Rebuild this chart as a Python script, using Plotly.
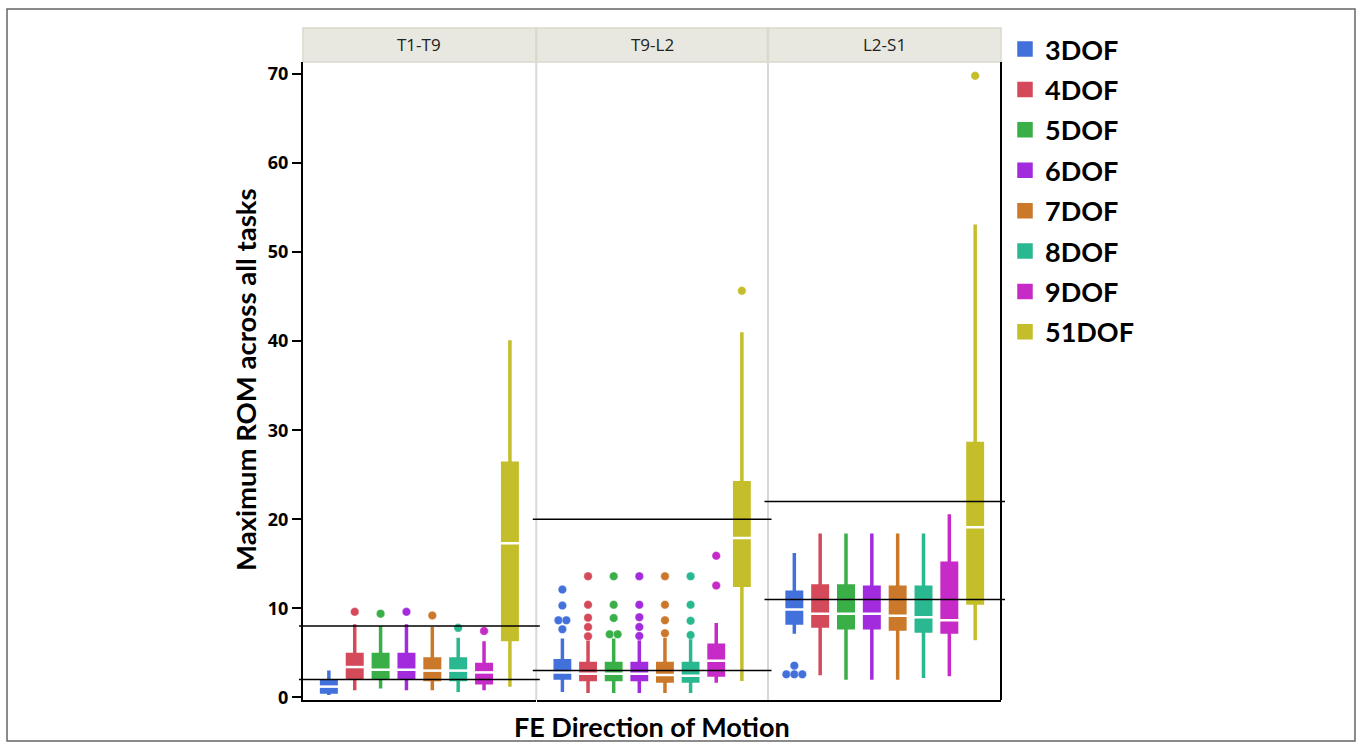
import plotly.graph_objects as go
from plotly.subplots import make_subplots

regions = ["T1-T9", "T9-L2", "L2-S1"]
dofs = ["3DOF", "4DOF", "5DOF", "6DOF", "7DOF", "8DOF", "9DOF", "51DOF"]
colors = ["#4271dc", "#d54a5a", "#3aaf48", "#a12bdd", "#cc782a", "#2ab890", "#c62bc8", "#c4be2a"]

lowerfence = {
    "T1-T9": [0.25, 0.8, 1.0, 0.8, 0.8, 0.6, 0.8, 1.2],
    "T9-L2": [0.6, 0.5, 0.5, 0.5, 0.5, 0.5, 1.65, 1.83],
    "L2-S1": [7.15, 2.47, 1.98, 1.98, 1.98, 2.17, 2.36, 6.4],
}
q1 = {
    "T1-T9": [0.6, 2.2, 2.2, 2.2, 2.0, 2.0, 1.65, 6.5],
    "T9-L2": [2.17, 2.0, 2.0, 2.0, 1.83, 1.83, 2.5, 12.6],
    "L2-S1": [8.35, 8.0, 7.8, 7.8, 7.68, 7.45, 7.34, 10.6],
}
median = {
    "T1-T9": [1.2, 3.4, 3.1, 3.1, 3.0, 3.0, 2.8, 17.3],
    "T9-L2": [2.8, 2.65, 2.65, 2.65, 2.5, 2.43, 4.1, 17.9],
    "L2-S1": [9.85, 9.4, 9.4, 9.4, 9.17, 9.0, 8.65, 19.1],
}
q3 = {
    "T1-T9": [1.8, 4.8, 4.8, 4.8, 4.3, 4.3, 3.7, 26.3],
    "T9-L2": [4.1, 3.8, 3.8, 3.8, 3.8, 3.8, 5.85, 24.1],
    "L2-S1": [11.8, 12.5, 12.5, 12.36, 12.36, 12.36, 15.06, 28.5],
}
upperfence = {
    "T1-T9": [3.0, 8.2, 8.0, 8.2, 7.9, 6.7, 6.3, 40.1],
    "T9-L2": [6.6, 6.4, 6.6, 6.4, 6.7, 6.6, 8.35, 41.0],
    "L2-S1": [16.2, 18.4, 18.4, 18.4, 18.4, 18.4, 20.56, 53.1],
}
outliers = {
    "T1-T9": [[], [9.6], [9.4], [9.6], [9.2], [7.8], [7.45], []],
    "T9-L2": [[12.1, 10.3, 8.65, 8.65, 7.64], [13.6, 10.4, 8.95, 7.9, 6.85],
              [13.6, 10.4, 8.9, 7.08, 7.08], [13.6, 10.4, 9.0, 7.9, 6.9],
              [13.6, 10.4, 8.65, 7.2], [13.6, 10.4, 8.6, 7.0], [15.9, 12.55], [45.65]],
    "L2-S1": [[3.56, 2.58, 2.58, 2.58], [], [], [], [], [], [], [69.8]],
}
ref_lines = {"T1-T9": [8.0, 2.0], "T9-L2": [20.0, 3.0], "L2-S1": [22.0, 11.0]}

y_ticks = [0, 10, 20, 30, 40, 50, 60, 70]

# ---- layout geometry (screen pixels) ----
W, H = 1360, 743
L, R, T, B = 303, 1001, 62, 700
pw, ph = R - L, B - T
def px(x):
    return (x - L) / pw
def py(y):
    return (B - y) / ph

domains = [[0.0, 0.3335], [0.3349, 0.6655], [0.6669, 1.0]]

fig = make_subplots(rows=1, cols=3, shared_yaxes=True, horizontal_spacing=0.0014)

for c, reg in enumerate(regions):
    col = c + 1
    for i, dof in enumerate(dofs):
        fig.add_trace(go.Box(
            x=[i], q1=[q1[reg][i]], median=[median[reg][i]], q3=[q3[reg][i]],
            lowerfence=[lowerfence[reg][i]], upperfence=[upperfence[reg][i]],
            width=0.56, whiskerwidth=0, boxpoints=False,
            fillcolor=colors[i], line=dict(color=colors[i], width=3.5),
            name=dof, legendgroup=dof, showlegend=(c == 0), hoverinfo="skip",
        ), row=1, col=col)
        vals = outliers[reg][i]
        counts = {}
        for v in vals:
            counts[v] = counts.get(v, 0) + 1
        done = {}
        xs, ys = [], []
        for v in vals:
            n = counts[v]
            k = done.get(v, 0)
            done[v] = k + 1
            xs.append(i + (k - (n - 1) / 2) * 0.31)
            ys.append(v)
        if xs:
            fig.add_trace(go.Scatter(
                x=xs, y=ys, mode="markers",
                marker=dict(size=8.5, color=colors[i], line=dict(width=0.6, color="rgba(255,255,255,0.6)")),
                legendgroup=dof, showlegend=False, hoverinfo="skip",
            ), row=1, col=col)
    fig.add_trace(go.Scatter(
        x=list(range(len(dofs))), y=median[reg], mode="markers",
        marker=dict(symbol="line-ew", size=18, line=dict(width=2.5, color="white")),
        showlegend=False, hoverinfo="skip",
    ), row=1, col=col)

shapes = []
annotations = []
for c, reg in enumerate(regions):
    d0, d1 = domains[c]
    shapes.append(dict(type="rect", xref="paper", yref="paper", x0=d0, x1=d1,
                       y0=1.0, y1=py(28), fillcolor="#e8e8e0",
                       line=dict(color="#d9d9cc", width=1.5), layer="below"))
    annotations.append(dict(xref="paper", yref="paper", x=(d0 + d1) / 2, y=py(45),
                            xanchor="center", yanchor="middle",
                            text=reg, showarrow=False,
                            font=dict(family="Open Sans", size=17, color="#222")))
    ext = 4 / pw
    for v in ref_lines[reg]:
        shapes.append(dict(type="line", xref="paper", yref=("y" if c == 0 else "y%d" % (c + 1)),
                           x0=d0 - ext, x1=d1 + ext, y0=v, y1=v,
                           line=dict(color="black", width=1.5), layer="above"))

for xs in [0.3342, 0.6662]:
    shapes.append(dict(type="line", xref="paper", yref="paper", x0=xs, x1=xs, y0=0, y1=1,
                       line=dict(color="#d8d8d8", width=2), layer="below"))
shapes.append(dict(type="line", xref="paper", yref="paper", x0=1, x1=1, y0=0, y1=1,
                   line=dict(color="black", width=2)))
shapes.append(dict(type="rect", xref="paper", yref="paper", x0=px(7), x1=px(1355),
                   y0=py(741), y1=py(9), line=dict(color="#666", width=1.5)))

annotations.append(dict(xref="paper", yref="paper", x=px(245), y=py(380),
                        xanchor="center", yanchor="middle",
                        text="<b>Maximum ROM across all tasks</b>",
                        textangle=-90, showarrow=False,
                        font=dict(family="Lato", size=27.5, color="black")))
annotations.append(dict(xref="paper", yref="paper", x=0.5, y=py(726),
                        xanchor="center", yanchor="middle",
                        text="<b>FE Direction of Motion</b>",
                        showarrow=False,
                        font=dict(family="Lato", size=27, color="black")))

for c in range(3):
    fig.update_xaxes(domain=domains[c], range=[-1, 8], showticklabels=False, ticks="",
                     showgrid=False, zeroline=False, showline=True, linecolor="black",
                     linewidth=2, row=1, col=c + 1)
fig.update_yaxes(range=[-0.3, 71.35], tickvals=y_ticks, showgrid=False, zeroline=False)
fig.update_yaxes(showline=True, linecolor="black", linewidth=2, ticks="outside", ticklen=9,
                 tickwidth=1.5, tickcolor="black",
                 tickfont=dict(family="Open Sans", size=18, color="black", weight="bold"),
                 row=1, col=1)

fig.update_layout(
    width=W, height=H,
    margin=dict(l=L, r=W - R, t=T, b=H - B),
    paper_bgcolor="white", plot_bgcolor="white",
    shapes=shapes, annotations=annotations,
    boxmode="overlay",
    legend=dict(x=px(1005), xanchor="left", y=py(25), yanchor="top",
                traceorder="grouped", tracegroupgap=2.3,
                font=dict(family="Lato", size=27, color="black", weight="bold"),
                bgcolor="rgba(0,0,0,0)"),
)

fig.write_html("out.html", config={"displayModeBar": False},
               post_script="document.body.style.margin='0';document.body.style.overflow='hidden';")
